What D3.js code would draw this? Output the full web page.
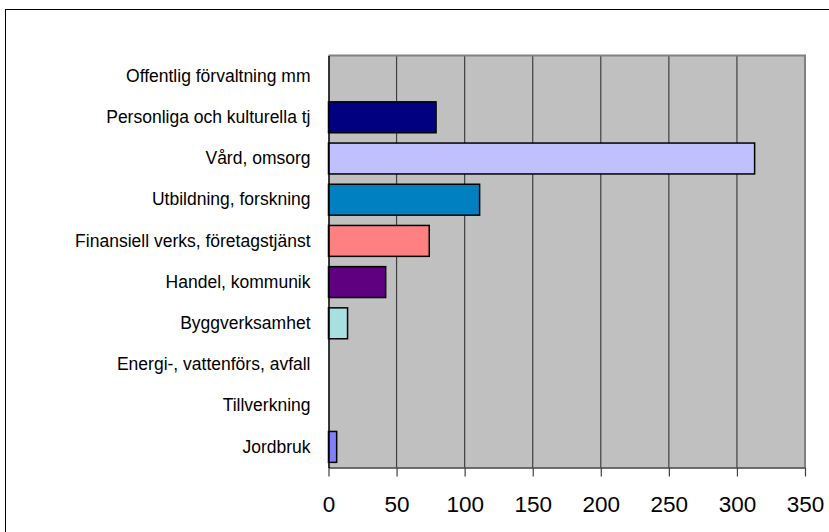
<!DOCTYPE html>
<html>
<head>
<meta charset="utf-8">
<script src="https://d3js.org/d3.v7.min.js"></script>
<style>
  body { margin: 0; background: #fff; }
  text { font-family: "Liberation Sans", Arial, sans-serif; }
</style>
</head>
<body>
<div id="chart"></div>
<script>
// data, top to bottom
var categories = ["Offentlig förvaltning mm", "Personliga och kulturella tj", "Vård, omsorg",
  "Utbildning, forskning", "Finansiell verks, företagstjänst", "Handel, kommunik",
  "Byggverksamhet", "Energi-, vattenförs, avfall", "Tillverkning", "Jordbruk"];
var values = [0, 79, 313, 111, 74, 42, 14, 0, 0, 6];
var colors = ["#000080", "#000080", "#C0C0FF", "#0080C0", "#FF8080", "#5E0080",
  "#A6E0E0", "#000080", "#000080", "#8080FF"];
var xTicks = [0, 50, 100, 150, 200, 250, 300, 350];

var W = 829, H = 532;
var margin = {top: 55.5, left: 328.5, right: 24, bottom: 64.5},
    width = W - margin.left - margin.right,
    height = H - margin.top - margin.bottom;

var svg = d3.select("#chart")
  .append("svg")
    .attr("width", W)
    .attr("height", H);

// outer chart border
svg.append("rect")
    .attr("x", 5.5).attr("y", 9.5)
    .attr("width", W).attr("height", H)
    .attr("fill", "none")
    .attr("stroke", "#000")
    .attr("stroke-width", 1);

var g = svg.append("g")
    .attr("transform", "translate(" + margin.left + "," + margin.top + ")");

var x = d3.scaleLinear()
    .domain([0, 350])
    .range([0, width]);

var y = d3.scaleBand()
    .domain(categories)
    .range([0, height])
    .paddingInner(0.25)
    .paddingOuter(0.125);

// plot area
g.append("rect")
    .attr("width", width)
    .attr("height", height)
    .attr("fill", "#C0C0C0");

// gridlines
g.append("g")
  .selectAll("line")
  .data(xTicks.slice(1, -1))
  .enter().append("line")
    .attr("x1", function(d) { return x(d); })
    .attr("x2", function(d) { return x(d); })
    .attr("y1", 0)
    .attr("y2", height)
    .attr("stroke", "#404040")
    .attr("stroke-width", 1.2);

// border top/right
g.append("path")
    .attr("d", "M0,0H" + width + "V" + height)
    .attr("fill", "none")
    .attr("stroke", "#808080")
    .attr("stroke-width", 2);

// bars (zero values draw nothing)
var rows = categories.map(function(c, i) { return {cat: c, value: values[i], color: colors[i]}; });
g.append("g")
  .selectAll("rect")
  .data(rows.filter(function(d) { return d.value > 0; }))
  .enter().append("rect")
    .attr("x", x(0))
    .attr("y", function(d) { return y(d.cat); })
    .attr("width", function(d) { return x(d.value) - x(0); })
    .attr("height", y.bandwidth())
    .attr("fill", function(d) { return d.color; })
    .attr("stroke", "#000")
    .attr("stroke-width", 1.5);

// x axis
var xAxis = g.append("g")
    .attr("transform", "translate(0," + height + ")")
    .call(d3.axisBottom(x).tickValues(xTicks).tickSize(9).tickPadding(20).tickSizeOuter(0));
xAxis.select(".domain").attr("stroke", "#404040").attr("stroke-width", 1.5);
xAxis.selectAll(".tick line").attr("stroke", "#404040").attr("stroke-width", 1.2);
xAxis.selectAll("text")
    .attr("fill", "#000")
    .style("font-family", "'Liberation Sans', Arial, sans-serif")
    .style("font-size", "22.5px");

// y axis
var yAxis = g.append("g")
    .call(d3.axisLeft(y).tickSize(0).tickPadding(18));
yAxis.select(".domain").attr("stroke", "#000").attr("stroke-width", 1.5);
yAxis.selectAll("text")
    .attr("fill", "#000")
    .style("font-family", "'Liberation Sans', Arial, sans-serif")
    .style("font-size", "17.5px");
</script>
</body>
</html>
